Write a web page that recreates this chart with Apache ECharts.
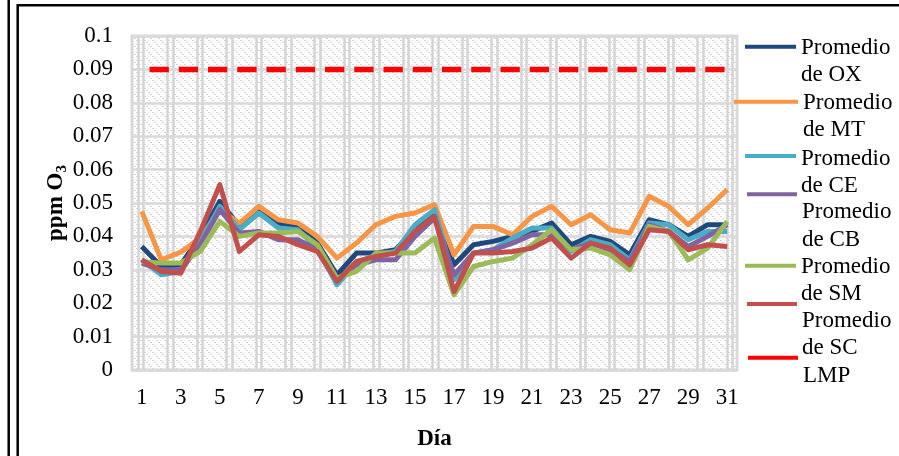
<!DOCTYPE html>
<html><head><meta charset="utf-8">
<script src="https://cdn.jsdelivr.net/npm/echarts@6/dist/echarts.min.js"></script>
<style>html,body{margin:0;padding:0;background:#fff}#c{width:899px;height:456px}</style>
</head><body><div id="c"></div>
<script>
// ---- data ----
const days = [1,2,3,4,5,6,7,8,9,10,11,12,13,14,15,16,17,18,19,20,21,22,23,24,25,26,27,28,29,30,31];
const seriesNames = ['Promedio de OX','Promedio de MT','Promedio de CE','Promedio de CB','Promedio de SM','Promedio de SC','LMP'];
const ox = [0.037,0.031,0.0315,0.040,0.0505,0.043,0.0485,0.044,0.043,0.038,0.0285,0.035,0.035,0.036,0.042,0.0475,0.0315,0.0375,0.0385,0.040,0.0415,0.044,0.0375,0.040,0.0385,0.0345,0.045,0.0435,0.040,0.0435,0.0435];
const mt = [0.0475,0.033,0.0353,0.0395,0.048,0.044,0.049,0.045,0.044,0.040,0.0335,0.038,0.0435,0.046,0.047,0.0495,0.0345,0.043,0.043,0.0405,0.046,0.049,0.0435,0.0465,0.042,0.041,0.052,0.049,0.0435,0.0485,0.054];
const ce = [0.033,0.0285,0.0295,0.0385,0.049,0.042,0.047,0.0425,0.042,0.0365,0.0255,0.032,0.0345,0.0355,0.0435,0.048,0.027,0.035,0.036,0.0395,0.0425,0.0425,0.0355,0.039,0.0375,0.033,0.044,0.0435,0.039,0.0415,0.0415];
const cb = [0.032,0.030,0.030,0.0375,0.048,0.041,0.0415,0.039,0.039,0.036,0.027,0.0315,0.033,0.033,0.040,0.0455,0.0285,0.035,0.036,0.038,0.0405,0.0405,0.036,0.038,0.036,0.0325,0.0435,0.0415,0.037,0.040,0.0435];
const sm = [0.0325,0.032,0.032,0.0355,0.0445,0.040,0.041,0.041,0.0415,0.0375,0.0275,0.0295,0.035,0.035,0.035,0.0395,0.0225,0.031,0.0325,0.0335,0.0375,0.042,0.036,0.0365,0.0345,0.030,0.043,0.0415,0.033,0.0365,0.0445];
const sc = [0.033,0.0295,0.029,0.0415,0.0555,0.0355,0.0405,0.040,0.0375,0.0355,0.0265,0.0325,0.034,0.035,0.0415,0.046,0.0235,0.035,0.035,0.0355,0.0365,0.0395,0.0335,0.038,0.0365,0.0315,0.042,0.0415,0.036,0.0375,0.037];
const lmp = [0.09,0.09,0.09,0.09,0.09,0.09,0.09,0.09,0.09,0.09,0.09,0.09,0.09,0.09,0.09,0.09,0.09,0.09,0.09,0.09,0.09,0.09,0.09,0.09,0.09,0.09,0.09,0.09,0.09,0.09,0.09];
const yName = 'ppm O';
const ySub = '3';
const xName = 'Día';

// ---- styles / layout ----
const FONT = '"Liberation Serif","Times New Roman",serif';
const colors = ['#1F497D','#F79646','#4BACC6','#8064A2','#9BBB59','#C0504D','#FF0000'];
const values = [ox, mt, ce, cb, sm, sc, lmp];
const legendLayout = [
  {left:745, top:4.4,   w:51, sp:30},
  {left:734, top:59.6,  w:64, sp:29.6},
  {left:745, top:112.2, w:51, sp:33},
  {left:747, top:135.3, w:50, sp:63.4},
  {left:745, top:223.6, w:51, sp:29.6},
  {left:747, top:246.2, w:50, sp:61},
  {left:748, top:325.75,w:50, sp:36.6}
];
const CLEAR = 'rgba(0,0,0,0)';

function makePattern(){
  const c = document.createElement('canvas'); c.width = 8; c.height = 8;
  const g = c.getContext('2d');
  g.fillStyle = '#ffffff'; g.fillRect(0,0,8,8);
  g.fillStyle = '#d4d4d4';
  g.fillRect(0,0,2,1); g.fillRect(2,2,2,1); g.fillRect(4,4,2,1); g.fillRect(6,6,2,1);
  g.fillStyle = '#e6e6e6';
  g.fillRect(4,0,1,1); g.fillRect(0,4,1,1);
  return c;
}

const chart = echarts.init(document.getElementById('c'), null, {renderer:'canvas'});
const GRID_LEFT = 132, GRID_RIGHT = 162, GRID_TOP = 36, GRID_BOTTOM = 86;

const legends = seriesNames.map((n, i) => {
  const L = legendLayout[i];
  return {
    data: [n], left: L.left, top: L.top, padding: 0, orient: 'vertical',
    itemWidth: L.w, itemHeight: 4, icon: 'rect', selectedMode: false,
    formatter: name => '{sp| }\n' + name.split(' de ').map((p, j) => '{t|' + (j ? 'de ' + p : p) + '}').join('\n'),
    textStyle: {
      rich: {
        sp: {fontSize: 1, lineHeight: L.sp, height: L.sp},
        t: {fontSize: 23, lineHeight: 27.3, fontFamily: FONT, color: '#000'}
      }
    }
  };
});

const series = seriesNames.map((n, i) => ({
  name: n, type: 'line', xAxisIndex: 0, yAxisIndex: 0,
  data: values[i], showSymbol: false, symbol: 'none', silent: true,
  itemStyle: {color: colors[i]},
  lineStyle: i === 6
    ? {color: colors[i], width: 5.5, type: [19.3, 9.95], dashOffset: 21.5, cap: 'butt'}
    : {color: colors[i], width: 5, join: 'round', cap: 'butt'},
  z: 10 + i
}));

// decorative paired vertical gridlines (axes kept "shown" but with transparent parts)
const pairXAxis = (gi) => ({
  type: 'value', gridIndex: gi, min: 0, max: 20, interval: 1, show: true,
  axisLine: {show: true, lineStyle: {color: CLEAR}},
  axisTick: {show: true, lineStyle: {color: CLEAR}},
  axisLabel: {show: true, color: CLEAR, fontSize: 8},
  splitLine: {show: true, lineStyle: {color: '#d4d4d4', width: 2.5}}
});
const pairYAxis = (gi) => ({
  type: 'value', gridIndex: gi, min: 0, max: 1, show: true,
  axisLine: {show: true, lineStyle: {color: CLEAR}},
  axisTick: {show: true, lineStyle: {color: CLEAR}},
  axisLabel: {show: true, color: CLEAR, fontSize: 8},
  splitLine: {show: false}
});

chart.setOption({
  animation: false,
  backgroundColor: '#ffffff',
  textStyle: {fontFamily: FONT, color: '#000'},
  graphic: [
    {type: 'rect', z: -10, silent: true,
     shape: {x: GRID_LEFT, y: GRID_TOP, width: 899 - GRID_LEFT - GRID_RIGHT, height: 456 - GRID_TOP - GRID_BOTTOM},
     style: {fill: {image: makePattern(), repeat: 'repeat'}}},
    {type: 'line', shape: {x1: 8.7, y1: 0, x2: 8.7, y2: 456}, style: {stroke: '#000', lineWidth: 2.5}},
    {type: 'rect', shape: {x: 17.7, y: 5.3, width: 900, height: 500}, style: {fill: 'none', stroke: '#000', lineWidth: 2.5}}
  ],
  grid: [
    {left: GRID_LEFT, right: GRID_RIGHT, top: GRID_TOP, bottom: GRID_BOTTOM, show: true,
     backgroundColor: 'transparent', borderColor: '#d9d9d9', borderWidth: 3},
    {left: 138, width: 589, top: GRID_TOP, bottom: GRID_BOTTOM, show: false},
    {left: 143.5, width: 589, top: GRID_TOP, bottom: GRID_BOTTOM, show: false}
  ],
  legend: legends,
  xAxis: [
    {type: 'category', gridIndex: 0, data: days, boundaryGap: true, z: 3,
     axisLine: {show: false}, axisTick: {show: false}, splitLine: {show: false},
     axisLabel: {interval: 1, margin: 16, fontSize: 23, fontFamily: FONT, color: '#000'},
     name: xName, nameLocation: 'middle', nameGap: 58, nameMoveOverlap: false,
     nameTextStyle: {fontSize: 23, fontWeight: 'bold', fontFamily: FONT, color: '#000'}},
    pairXAxis(1),
    pairXAxis(2)
  ],
  yAxis: [
    {type: 'value', gridIndex: 0, min: 0, max: 0.1, interval: 0.01, z: 3,
     axisLine: {show: false}, axisTick: {show: false},
     splitLine: {show: true, lineStyle: {color: '#d9d9d9', width: 2.5}},
     axisLabel: {margin: 19, fontSize: 23, fontFamily: FONT, color: '#000',
       formatter: v => String(Math.round(v * 100) / 100)},
     name: '{a|' + yName + '}{b|' + ySub + '}', nameLocation: 'middle', nameGap: 62, nameMoveOverlap: false,
     nameTextStyle: {rich: {
       a: {fontSize: 23, fontWeight: 'bold', fontFamily: FONT, color: '#000', lineHeight: 28},
       b: {fontSize: 15, fontWeight: 'bold', fontFamily: FONT, color: '#000', lineHeight: 15, verticalAlign: 'bottom'}
     }}},
    pairYAxis(1),
    pairYAxis(2)
  ],
  series: series
});
</script>
</body></html>
